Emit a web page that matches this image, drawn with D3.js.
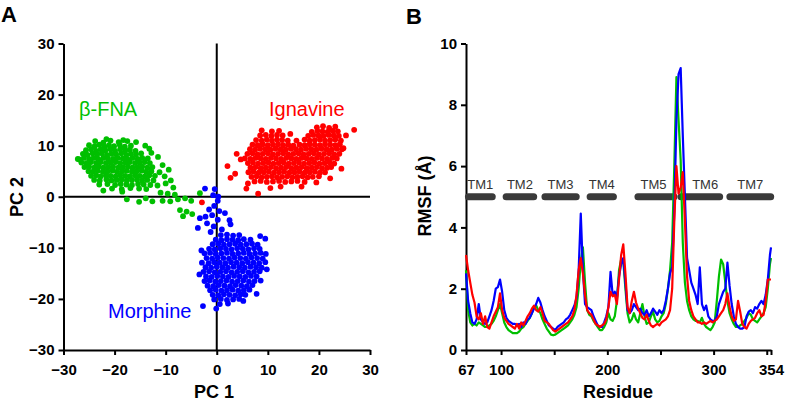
<!DOCTYPE html>
<html>
<head>
<meta charset="utf-8">
<script src="https://cdn.jsdelivr.net/npm/d3@7/dist/d3.min.js"></script>
<style>
    body { margin: 0; background: #fff; }
    svg { display: block; font-family: "Liberation Sans", Arial, sans-serif; }
    .axis text { font-family: "Liberation Sans", Arial, sans-serif; font-size: 15px; font-weight: bold; fill: #000; }
    .axis path, .axis line { stroke: #000; stroke-width: 2; }
</style>
</head>
<body>
<svg id="chart" width="787" height="401"></svg>
<script>
// ---- panel A: PCA projections (PC1, PC2) ----
var fnaPoints = [
    [-23.8,10.9],[-22.2,10.6],[-20.8,11.0],[-19.2,10.7],[-17.5,10.9],
    [-25.0,10.1],[-23.9,9.9],[-23.0,10.2],[-22.0,9.8],[-21.1,10.1],[-20.1,9.9],[-19.0,10.2],[-18.0,9.8],[-16.8,10.0],
    [-25.6,9.1],[-24.6,9.3],[-23.6,9.0],[-22.7,9.3],[-21.8,9.1],[-20.8,9.3],[-19.9,9.0],[-18.9,9.3],[-17.9,9.1],[-17.0,9.2],[-15.9,9.0],
    [-26.2,8.4],[-25.3,8.2],[-24.3,8.5],[-23.4,8.3],[-22.5,8.5],[-21.5,8.2],[-20.6,8.4],[-19.7,8.3],[-18.7,8.5],[-17.7,8.2],[-16.8,8.4],[-15.8,8.3],[-14.8,8.5],
    [-27.2,7.4],[-26.0,7.6],[-25.0,7.4],[-24.1,7.6],[-23.2,7.4],[-22.2,7.6],[-21.3,7.5],[-20.3,7.4],[-19.4,7.6],[-18.4,7.5],[-17.5,7.4],[-16.5,7.6],[-15.5,7.4],[-14.6,7.6],[-13.5,7.5],
    [-26.5,6.7],[-25.5,6.6],[-24.6,6.8],[-23.6,6.6],[-22.7,6.8],[-21.7,6.6],[-20.8,6.7],[-19.8,6.8],[-18.9,6.6],[-17.9,6.7],[-17.0,6.8],[-16.0,6.6],[-15.1,6.7],[-14.1,6.8],[-13.1,6.6],
    [-25.9,5.8],[-25.0,5.9],[-24.0,5.7],[-23.1,5.9],[-22.2,5.7],[-21.2,5.8],[-20.3,5.9],[-19.3,5.7],[-18.4,5.8],[-17.4,5.9],[-16.5,5.7],[-15.5,5.8],[-14.6,5.9],[-13.6,5.7],[-12.6,5.8],
    [-25.1,5.0],[-24.2,4.9],[-23.3,5.1],[-22.3,4.9],[-21.4,5.0],[-20.4,5.1],[-19.5,4.9],[-18.5,5.0],[-17.6,5.1],[-16.6,4.9],[-15.7,5.0],[-14.7,5.1],[-13.8,4.9],[-12.8,5.0],
    [-24.6,4.1],[-23.6,4.2],[-22.7,4.0],[-21.7,4.2],[-20.8,4.1],[-19.8,4.0],[-18.9,4.2],[-17.9,4.1],[-17.0,4.0],[-16.0,4.2],[-15.1,4.1],[-14.1,4.0],[-13.2,4.2],[-12.1,4.1],
    [-24.0,3.3],[-22.9,3.2],[-21.6,3.4],[-20.6,3.2],[-19.6,3.3],[-18.6,3.4],[-17.6,3.2],[-16.6,3.3],[-15.6,3.4],[-14.6,3.2],[-13.6,3.3],[-12.4,3.2],
    [-23.0,2.4],[-21.4,2.5],[-19.9,2.3],[-18.8,2.5],[-17.7,2.4],[-16.6,2.3],[-15.4,2.5],[-14.3,2.4],[-13.0,2.3],
    [-20.5,1.6],[-18.6,1.5],[-16.9,1.7],[-15.2,1.6],[-13.8,1.5],
    [-11.5,7.8],[-10.6,6.2],[-11.2,4.8],[-10.2,4.0],[-9.4,5.3],[-11.6,2.2],[-10.0,2.6],[-9.0,3.2],[-8.5,1.8],
    [-11.0,0.8],[-9.6,0.6],[-8.2,0.4],[-10.6,-0.8],[-9.1,-0.9],[-7.6,-0.5],[-6.2,-0.3],[-5.0,-0.8],
    [-7.2,-2.6],[-5.9,-2.9],[-4.8,-3.4],[-6.6,-3.8],[-3.3,0.7],[-17.6,-0.5],[-15.2,-1.0],[-13.9,-0.3],
    [-12.6,-0.9],[-18.5,1.0],[-22.2,1.2],[-26.9,7.3],[-15.8,10.7],[-13.2,9.4],[-12.8,8.6],[-14.0,10.0],
    [-21.6,11.3],[-18.3,11.1]
];

var ignavinePoints = [
    [19.6,13.6],[20.8,13.8],[22.0,13.5],[23.2,13.7],
    [10.8,12.8],[12.2,12.9],[18.6,12.7],[19.7,12.9],[20.7,12.8],[21.7,12.7],[22.7,12.9],[23.7,12.8],
    [8.5,12.0],[9.6,12.1],[10.7,11.9],[11.8,12.1],[12.9,12.0],[17.9,11.9],[18.9,12.1],[19.9,12.0],[20.9,11.9],[21.9,12.1],[22.9,12.0],[23.9,11.9],
    [7.7,11.1],[8.8,11.0],[9.8,11.2],[10.8,11.0],[11.8,11.2],[12.8,11.1],[13.9,11.0],[17.2,11.2],[18.2,11.0],[19.2,11.1],[20.2,11.2],[21.2,11.0],[22.2,11.1],[23.2,11.2],[24.3,11.0],
    [7.0,10.2],[8.0,10.1],[9.0,10.3],[10.0,10.1],[11.0,10.2],[12.0,10.3],[13.0,10.1],[14.0,10.2],[15.0,10.0],[16.2,10.2],[17.2,10.1],[18.2,10.3],[19.2,10.2],[20.2,10.1],[21.2,10.3],[22.2,10.2],[23.2,10.1],[24.1,10.3],
    [6.5,9.3],[7.5,9.2],[8.5,9.4],[9.5,9.3],[10.5,9.2],[11.5,9.4],[12.5,9.3],[13.5,9.2],[14.5,9.4],[15.5,9.3],[16.5,9.2],[17.5,9.4],[18.5,9.3],[19.5,9.2],[20.5,9.4],[21.5,9.3],[22.5,9.2],[23.5,9.4],[24.5,9.3],
    [6.0,8.4],[7.0,8.5],[8.0,8.3],[9.0,8.4],[10.0,8.5],[11.0,8.3],[12.0,8.4],[13.0,8.5],[14.0,8.3],[15.0,8.4],[16.0,8.5],[17.0,8.3],[18.0,8.4],[19.0,8.5],[20.0,8.3],[21.0,8.4],[22.0,8.5],[23.0,8.3],[24.0,8.4],
    [5.5,7.5],[6.6,7.4],[7.6,7.6],[8.6,7.5],[9.6,7.4],[10.6,7.6],[11.6,7.5],[12.6,7.4],[13.6,7.6],[14.6,7.5],[15.6,7.4],[16.6,7.6],[17.6,7.5],[18.6,7.4],[19.6,7.6],[20.6,7.5],[21.6,7.4],[22.6,7.6],[23.5,7.5],
    [6.1,6.6],[7.1,6.7],[8.1,6.5],[9.1,6.6],[10.1,6.7],[11.1,6.5],[12.1,6.6],[13.1,6.7],[14.1,6.5],[15.1,6.6],[16.1,6.7],[17.1,6.5],[18.1,6.6],[19.1,6.7],[20.1,6.5],[21.1,6.6],[22.1,6.7],[23.0,6.5],
    [6.6,5.7],[7.6,5.8],[8.6,5.6],[9.6,5.7],[10.6,5.8],[11.6,5.6],[12.6,5.7],[13.6,5.8],[14.6,5.6],[15.6,5.7],[16.6,5.8],[17.6,5.6],[18.6,5.7],[19.6,5.8],[20.6,5.6],[21.6,5.7],[22.4,5.8],
    [6.2,4.8],[7.2,4.9],[8.2,4.7],[9.2,4.8],[10.2,4.9],[11.2,4.7],[12.2,4.8],[13.2,4.9],[14.2,4.7],[15.2,4.8],[16.2,4.9],[17.2,4.7],[18.2,4.8],[19.2,4.9],[20.2,4.7],[21.2,4.8],
    [6.8,3.9],[7.8,4.0],[8.8,3.8],[9.8,3.9],[10.8,4.0],[11.8,3.8],[12.8,3.9],[13.8,4.0],[14.8,3.8],[15.8,3.9],[16.8,4.0],[17.8,3.8],[18.8,3.9],[20.0,4.0],
    [7.4,3.0],[8.6,3.1],[9.8,2.9],[11.0,3.0],[12.2,3.1],[13.4,2.9],[14.6,3.0],[15.8,3.1],[17.2,2.9],
    [2.1,6.0],[2.7,3.7],[3.6,4.5],[3.9,8.4],[4.7,7.3],[5.8,1.6],[6.1,2.6],[8.1,0.6],[26.9,13.1],
    [25.3,12.0],[24.8,9.5],[24.4,5.5],[22.2,3.6],[19.5,2.8],[16.6,2.0],[12.5,2.0],[10.5,1.7],[-2.9,-1.1],
    [14.4,12.3],[15.6,11.0],[8.8,13.0]
];

var morphinePoints = [
    [0.8,-7.5],[2.0,-7.4],[3.2,-7.6],[4.4,-7.5],
    [-0.2,-8.4],[0.9,-8.5],[2.0,-8.3],[3.1,-8.4],[4.2,-8.5],[5.3,-8.3],[6.6,-8.4],
    [-0.8,-9.3],[0.3,-9.2],[1.4,-9.4],[2.5,-9.3],[3.6,-9.2],[4.7,-9.4],[5.8,-9.3],[6.9,-9.2],[8.0,-9.4],
    [-1.5,-10.2],[-0.4,-10.3],[0.7,-10.1],[1.8,-10.2],[2.9,-10.3],[4.0,-10.1],[5.1,-10.2],[6.2,-10.3],[7.3,-10.1],[8.4,-10.2],
    [-2.4,-11.1],[-1.3,-11.0],[-0.2,-11.2],[0.9,-11.1],[2.0,-11.0],[3.1,-11.2],[4.2,-11.1],[5.3,-11.0],[6.4,-11.2],[7.5,-11.1],[8.6,-11.0],[9.6,-11.2],
    [-2.0,-12.0],[-0.9,-12.1],[0.2,-11.9],[1.3,-12.0],[2.4,-12.1],[3.5,-11.9],[4.6,-12.0],[5.7,-12.1],[6.8,-11.9],[7.9,-12.0],[9.0,-12.1],
    [-2.9,-12.9],[-1.6,-13.0],[-0.5,-12.8],[0.6,-12.9],[1.7,-13.0],[2.8,-12.8],[3.9,-12.9],[5.0,-13.0],[6.1,-12.8],[7.2,-12.9],[8.3,-13.0],[9.5,-12.8],
    [-2.2,-13.8],[-1.1,-13.9],[0.0,-13.7],[1.1,-13.8],[2.2,-13.9],[3.3,-13.7],[4.4,-13.8],[5.5,-13.9],[6.6,-13.7],[7.7,-13.8],[8.8,-13.9],
    [-2.6,-14.7],[-1.5,-14.6],[-0.4,-14.8],[0.7,-14.7],[1.8,-14.6],[2.9,-14.8],[4.0,-14.7],[5.1,-14.6],[6.2,-14.8],[7.3,-14.7],[8.4,-14.6],
    [-2.1,-15.6],[-1.0,-15.7],[0.1,-15.5],[1.2,-15.6],[2.3,-15.7],[3.4,-15.5],[4.5,-15.6],[5.6,-15.7],[6.7,-15.5],[7.8,-15.6],
    [-2.4,-16.5],[-1.4,-16.4],[-0.3,-16.6],[0.8,-16.5],[1.9,-16.4],[3.0,-16.6],[4.1,-16.5],[5.2,-16.4],[6.3,-16.6],[7.4,-16.5],[8.6,-16.4],
    [-1.8,-17.4],[-0.7,-17.5],[0.4,-17.3],[1.5,-17.4],[2.6,-17.5],[3.7,-17.3],[4.8,-17.4],[5.9,-17.5],[7.0,-17.3],
    [-1.3,-18.3],[-0.2,-18.2],[0.9,-18.4],[2.0,-18.3],[3.1,-18.2],[4.2,-18.4],[5.3,-18.3],[6.4,-18.2],
    [-0.8,-19.2],[0.3,-19.3],[1.4,-19.1],[2.5,-19.2],[3.6,-19.3],[4.7,-19.1],[5.6,-19.2],
    [-0.5,-20.1],[0.8,-20.0],[2.0,-20.2],[3.2,-20.1],[4.4,-20.0],
    [0.6,-21.0],[2.2,-20.9],
    [-2.3,1.6],[-0.4,1.5],[-0.7,0.3],[0.3,0.0],[0.2,-0.8],[-0.5,-1.8],[-1.5,-2.5],[0.5,-2.8],
    [-0.9,-3.6],[-2.2,-3.9],[-3.3,-4.2],[0.2,-4.5],[1.6,-3.2],[2.5,-4.6],[2.7,-5.4],[-1.9,-5.2],
    [-0.6,-5.8],[-3.7,-6.1],[1.0,-6.4],[-1.2,-6.9],[-2.7,-21.4],[-0.1,-21.9],[9.5,-8.2],[8.5,-7.7],
    [-3.0,-10.5],[9.8,-14.2],[-3.4,-15.2],[7.8,-19.0],[5.2,-20.4]
];

var pcaTicks = [-30, -20, -10, 0, 10, 20, 30];

// ---- panel B: RMSF per residue ----
var residues = [67,69,71,73,75,77,79,81,83,85,87,89,91,93,95,97,99,101,103,105,
    107,109,111,113,115,117,119,121,123,125,127,129,131,133,135,137,139,141,143,145,
    147,149,151,153,155,157,159,161,163,165,167,169,171,173,175,177,179,181,183,185,
    187,189,191,193,195,197,199,201,203,205,207,209,211,213,215,217,219,221,223,225,
    227,229,231,233,235,237,239,241,243,245,247,249,251,253,255,257,259,261,263,265,
    267,269,271,273,275,277,279,281,283,285,287,289,291,293,295,297,299,301,303,305,
    307,309,311,313,315,317,319,321,323,325,327,329,331,333,335,337,339,341,343,345,
    347,349,351,353,354];

var rmsfFNA = [2.6,1.3,0.9,0.8,0.85, 0.8,0.9,0.85,0.8,0.75, 0.75,0.8,0.85,0.95,1.1, 1.3,1.5,1.2,0.9,0.75,
    0.65,0.6,0.55,0.55,0.55, 0.6,0.7,0.75,0.85,0.95, 1.05,1.2,1.4,1.45,1.3, 1.2,1.0,0.85,0.7,0.6,
    0.5,0.48,0.5,0.55,0.6, 0.65,0.7,0.75,0.8,0.9, 1.0,1.15,1.4,2.0,2.9, 3.35,2.2,1.3,1.15,1.1,
    0.95,0.85,0.75,0.65,0.65, 0.75,0.9,1.2,1.0,0.95, 1.1,1.6,2.6,2.95,2.9, 2.0,1.2,0.9,1.0,1.2,
    1.0,0.9,1.2,1.5,1.1, 0.85,0.9,1.1,1.25,1.0, 0.9,0.95,1.1,1.2,1.5, 2.0,2.6,3.5,6.0,8.9,
    7.5,6.2,3.5,2.2,1.6, 1.3,1.1,1.0,0.95,0.95, 0.9,1.05,0.85,0.75,0.7, 0.65,0.75,0.9,1.6,2.4,
    2.95,2.8,2.2,1.6,1.2, 1.0,0.85,0.75,0.75,0.8, 0.85,0.95,1.05,1.2,1.15, 1.0,0.95,0.9,1.0,1.1,
    1.2,1.4,2.0,2.8, 3.0];

var rmsfMorphine = [2.5,1.6,1.2,0.9,0.85, 1.0,1.5,1.0,0.9,0.85, 0.9,1.1,1.3,1.6,2.0, 2.05,2.3,1.9,1.3,1.05,
    0.95,0.9,0.85,0.85,0.8, 0.85,0.75,0.9,0.85,1.0, 1.05,1.2,1.35,1.5,1.7, 1.55,1.3,1.1,0.95,0.8,
    0.75,0.7,0.65,0.75,0.8, 0.85,0.9,1.0,1.05,1.15, 1.3,1.45,1.7,2.6,4.45, 2.6,1.5,1.4,1.35,1.3,
    1.1,0.95,0.8,0.75,0.75, 0.9,1.1,1.4,2.55,1.8, 1.9,1.7,2.4,2.8,3.0, 2.2,1.3,1.2,1.3,1.5,
    1.4,1.3,1.35,1.2,1.15, 1.3,1.1,1.2,1.35,1.25, 1.15,1.3,1.2,1.3,1.6, 2.0,2.5,2.7,4.5,7.5,
    9.0,9.2,7.0,5.0,3.0, 2.6,2.2,2.0,1.8,1.5, 2.7,1.5,1.3,1.45,1.1, 1.0,0.95,0.95,1.1,1.5,
    1.7,1.9,2.0,2.85,2.1, 1.5,1.1,0.85,0.75,0.7, 0.7,0.75,1.1,1.25,1.3, 1.2,1.4,1.35,1.5,1.6,
    1.5,1.8,2.3,3.1, 3.35];

var rmsfIgnavine = [3.1,2.6,2.2,1.8,1.55, 1.1,1.0,1.2,0.85,1.1, 0.75,0.7,0.9,1.1,1.25, 1.4,1.85,1.3,1.05,0.95,
    0.85,0.8,0.75,0.7,0.85, 0.7,0.9,0.8,0.95,1.1, 1.2,1.35,1.45,1.3,1.25, 1.4,1.2,0.95,0.9,0.85,
    0.75,0.65,0.6,0.65,0.7, 0.75,0.8,0.85,0.9,1.0, 1.1,1.3,1.8,2.6,3.0, 2.5,1.8,1.3,1.2,1.15,
    1.0,0.85,0.8,0.75,0.8, 0.85,1.0,1.4,1.9,1.75, 1.8,1.5,2.3,3.1,3.45, 2.5,1.4,1.2,1.6,1.9,
    1.55,1.35,1.2,1.05,1.0, 1.15,0.95,0.8,0.75,0.8, 0.85,0.8,0.9,0.95,1.0, 1.1,1.3,2.0,4.2,6.0,
    5.1,5.3,5.8,4.2,2.4, 1.6,1.3,1.1,1.0,0.9, 0.9,0.85,0.9,0.85,0.9, 0.95,0.9,0.95,1.0,1.1,
    1.2,1.3,1.5,1.85,1.4, 1.1,0.95,1.0,1.6,1.25, 0.85,0.75,0.7,0.85,0.95, 1.0,1.05,1.2,1.3,1.1,
    1.15,1.6,2.3,2.3, 2.3];

var tmNames = ["TM1", "TM2", "TM3", "TM4", "TM5", "TM6", "TM7"];
var tmStart = [66, 101.5, 138, 180.5, 225.5, 266, 312];
var tmEnd = [95, 134, 174, 209, 266, 309, 357];

var residueTicks = [67, 100, 150, 200, 250, 300, 350, 354];
var residueLabels = [67, 100, 200, 300, 354];
var rmsfTicks = [0, 2, 4, 6, 8, 10];

var GREEN = "#00bf00", RED = "#ff0000", BLUE = "#0000ff";

var svg = d3.select("#chart");

/* Panel A */
var xA = d3.scaleLinear().domain([-30, 30]).range([63.5, 370]);
var yA = d3.scaleLinear().domain([-30, 30]).range([350, 43.5]);

var gA = svg.append("g");

gA.append("g")
    .attr("class", "axis")
    .attr("transform", "translate(0," + yA(-30) + ")")
    .call(d3.axisBottom(xA).tickValues(pcaTicks).tickSize(5).tickSizeOuter(0).tickPadding(9));

gA.append("g")
    .attr("class", "axis")
    .attr("transform", "translate(" + xA(-30) + ",0)")
    .call(d3.axisLeft(yA).tickValues(pcaTicks).tickSize(5).tickSizeOuter(0).tickPadding(4));

// zero lines
gA.append("line")
    .attr("x1", xA(0)).attr("x2", xA(0))
    .attr("y1", yA(-30)).attr("y2", yA(30))
    .style("stroke", "#000").style("stroke-width", 2);
gA.append("line")
    .attr("x1", xA(-30)).attr("x2", xA(30))
    .attr("y1", yA(0)).attr("y2", yA(0))
    .style("stroke", "#000").style("stroke-width", 2);

function drawCluster(pts, color) {
    gA.append("g").selectAll("circle")
        .data(pts)
        .enter().append("circle")
        .attr("cx", function (d) { return xA(d[0]); })
        .attr("cy", function (d) { return yA(d[1]); })
        .attr("r", 2.9)
        .attr("fill", color);
}
drawCluster(fnaPoints, GREEN);
drawCluster(ignavinePoints, RED);
drawCluster(morphinePoints, BLUE);

gA.append("text").attr("x", 79).attr("y", 116)
    .style("font-size", "20px").style("fill", GREEN).text("β-FNA");
gA.append("text").attr("x", 269).attr("y", 116)
    .style("font-size", "20px").style("fill", RED).text("Ignavine");
gA.append("text").attr("x", 108).attr("y", 318)
    .style("font-size", "20px").style("fill", BLUE).text("Morphine");

gA.append("text").attr("x", 214).attr("y", 398)
    .attr("text-anchor", "middle")
    .style("font-size", "18px").style("font-weight", "bold").text("PC 1");
gA.append("text")
    .attr("transform", "translate(23,197) rotate(-90)")
    .attr("text-anchor", "middle")
    .style("font-size", "18px").style("font-weight", "bold").text("PC 2");

svg.append("text").attr("x", 1).attr("y", 22)
    .style("font-size", "22px").style("font-weight", "bold").text("A");

/* Panel B */
var xB = d3.scaleLinear().domain([67, 354]).range([466, 771]);
var yB = d3.scaleLinear().domain([0, 10]).range([350, 43.5]);

var gB = svg.append("g");

gB.append("g")
    .attr("class", "axis")
    .attr("transform", "translate(0," + yB(0) + ")")
    .call(d3.axisBottom(xB).tickValues(residueTicks).tickSize(5).tickSizeOuter(0).tickPadding(9)
        .tickFormat(function (d) { return residueLabels.indexOf(d) >= 0 ? d : ""; }));

gB.append("g")
    .attr("class", "axis")
    .attr("transform", "translate(" + xB(67) + ",0)")
    .call(d3.axisLeft(yB).tickValues(rmsfTicks).tickSize(5).tickSizeOuter(0).tickPadding(4));

// TM helix bars
var tmData = tmNames.map(function (n, i) { return {name: n, s: tmStart[i], e: tmEnd[i]}; });
gB.append("g").selectAll("rect")
    .data(tmData)
    .enter().append("rect")
    .attr("x", function (d) { return xB(d.s); })
    .attr("width", function (d) { return xB(d.e) - xB(d.s); })
    .attr("y", yB(5) - 3.5)
    .attr("height", 7)
    .attr("rx", 3.5)
    .attr("fill", "#3a3a3a");
gB.append("g").selectAll("text")
    .data(tmData)
    .enter().append("text")
    .attr("x", function (d) { return d.name === "TM5" ? xB(d.s) + 19 : d.name === "TM6" ? xB(d.e) - 18 : (xB(d.s) + xB(d.e)) / 2; })
    .attr("y", yB(5) - 8)
    .attr("text-anchor", "middle")
    .style("font-size", "13px").style("fill", "#333")
    .text(function (d) { return d.name; });

function drawRmsf(vals, color) {
    var line = d3.line()
        .x(function (d, i) { return xB(residues[i]); })
        .y(function (d) { return yB(d); });
    gB.append("path")
        .datum(vals)
        .attr("d", line)
        .attr("fill", "none")
        .attr("stroke", color)
        .attr("stroke-width", 2.2)
        .attr("stroke-linejoin", "round");
}
drawRmsf(rmsfFNA, GREEN);
drawRmsf(rmsfMorphine, BLUE);
drawRmsf(rmsfIgnavine, RED);

gB.append("text").attr("x", 618).attr("y", 398)
    .attr("text-anchor", "middle")
    .style("font-size", "18px").style("font-weight", "bold").text("Residue");
gB.append("text")
    .attr("transform", "translate(431,196) rotate(-90)")
    .attr("text-anchor", "middle")
    .style("font-size", "18px").style("font-weight", "bold").text("RMSF (Å)");

svg.append("text").attr("x", 406).attr("y", 24)
    .style("font-size", "22px").style("font-weight", "bold").text("B");
</script>
</body>
</html>
